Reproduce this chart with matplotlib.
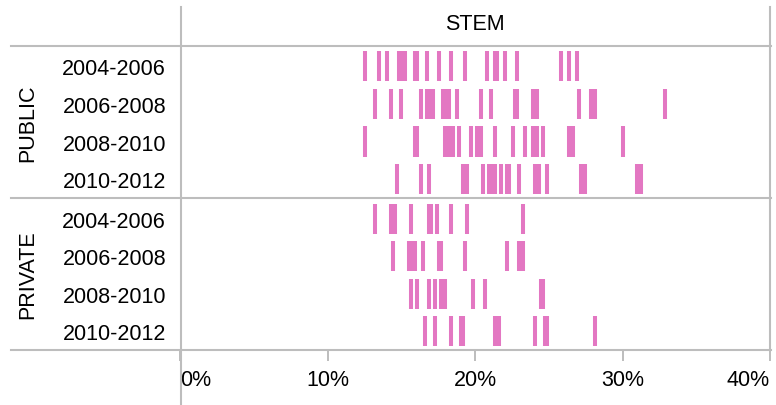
import matplotlib
matplotlib.use("Agg")
from matplotlib import pyplot as plt
from matplotlib.lines import Line2D

plt.rcParams['font.family'] = ['Liberation Sans', 'DejaVu Sans']

# Данные (доля в процентах)
periods = ["2004-2006", "2006-2008", "2008-2010", "2010-2012"]
groups = ["PUBLIC", "PRIVATE"]
column = "STEM"

public_vals = [
    [12.53, 13.48, 14.02, 14.83, 15.04, 15.24, 15.92, 16.06, 16.74, 17.55, 18.36,
     19.31, 20.81, 21.35, 21.49, 22.03, 22.84, 25.83, 26.37, 26.92],
    [13.20, 14.29, 14.97, 16.33, 16.74, 16.94, 17.14, 17.82, 18.02, 18.23, 18.77,
     20.40, 21.08, 22.71, 22.84, 23.93, 24.20, 27.05, 27.87, 28.14, 32.89],
    [12.53, 15.92, 16.06, 17.96, 18.23, 18.50, 18.91, 19.72, 20.13, 20.40, 21.35,
     22.57, 23.39, 23.93, 24.20, 24.61, 26.37, 26.64, 30.04],
    [14.70, 16.33, 16.87, 19.18, 19.45, 20.54, 20.94, 21.15, 21.35, 21.76, 22.16,
     22.30, 22.98, 24.07, 24.34, 24.88, 27.19, 27.46, 30.99, 31.26],
]
private_vals = [
    [13.20, 14.29, 14.56, 15.65, 16.87, 17.01, 17.41, 18.36, 19.45, 23.25],
    [14.43, 15.51, 15.72, 15.92, 16.46, 17.55, 17.69, 19.31, 22.16, 22.98, 23.25],
    [15.65, 16.06, 16.87, 17.28, 17.69, 17.96, 19.86, 20.67, 24.47, 24.61],
    [16.60, 17.28, 18.36, 19.04, 19.18, 21.35, 21.62, 24.07, 24.75, 24.88, 28.14],
]
x_ticks = [0, 10, 20, 30, 40]

W, H = 776, 406
pink = "#e377c2"
grey = "#bdbdbd"
fs = 15.5

fig = plt.figure(figsize=(W / 100, H / 100), dpi=100)


def fx(px):
    return px / W


def fy(py):
    return 1 - py / H


x_left, x_right = 180, 770
bands = [(46.5, 199), (199, 351)]
axes = []
for (top, bot), name, vals in zip(bands, groups, [public_vals, private_vals]):
    ax = fig.add_axes([fx(x_left), fy(bot), fx(x_right) - fx(x_left), (bot - top) / H])
    ax.eventplot(vals, orientation='horizontal', lineoffsets=range(len(vals)),
                 linelengths=0.8, linewidths=2.9, colors=pink)
    ax.set_xlim(0, 40)
    ax.set_ylim(3.5, -0.55)
    ax.set_yticks(range(len(periods)))
    ax.set_yticklabels(periods, fontsize=fs)
    ax.tick_params(axis='y', length=0, pad=10)
    ax.set_xticks([])
    for s in ax.spines.values():
        s.set_visible(False)
    fig.text(fx(28), fy((top + bot) / 2), name, rotation=90, fontsize=fs,
             ha='center', va='center')
    axes.append(ax)

# Ось X снизу
ax = axes[-1]
ax.set_xticks(x_ticks)
ax.set_xticklabels([f"{t}%" for t in x_ticks], fontsize=fs)
ax.tick_params(axis='x', length=8, width=1.4, color=grey, pad=6)
labels = ax.get_xticklabels()
labels[0].set_ha('left')
labels[-1].set_ha('right')

# Заголовок колонки
fig.text(fx((x_left + x_right) / 2), fy(24), column, fontsize=fs, ha='center', va='center')

# Линии сетки таблицы
lw = 1.5
for yy in [46.5, 199, 351]:
    fig.add_artist(Line2D([fx(11), fx(771)], [fy(yy), fy(yy)], color=grey, lw=lw,
                          transform=fig.transFigure))
fig.add_artist(Line2D([fx(180.5), fx(180.5)], [fy(8), fy(406)], color=grey, lw=lw,
                      transform=fig.transFigure))
fig.add_artist(Line2D([fx(770), fx(770)], [fy(8), fy(351)], color=grey, lw=lw,
                      transform=fig.transFigure))

fig.savefig("out.png", dpi=100)
